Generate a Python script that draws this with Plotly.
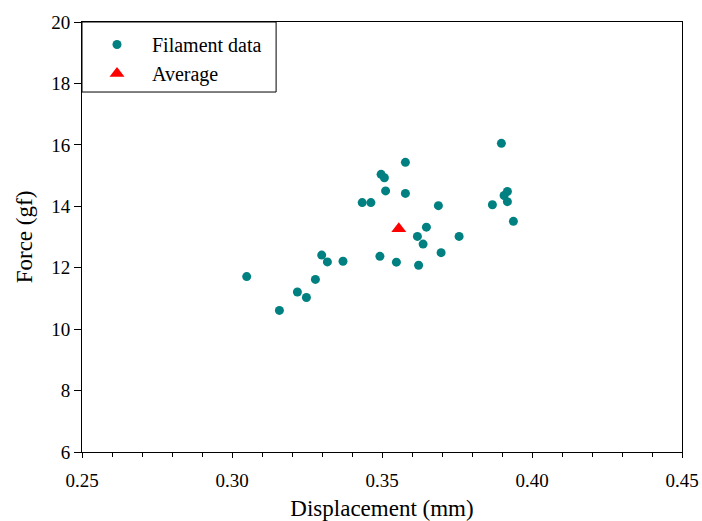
import plotly.graph_objects as go

disp = [0.3049, 0.3158, 0.3218, 0.3248, 0.3278, 0.3299, 0.3318, 0.3370,
        0.3434, 0.3463, 0.3497, 0.3508, 0.3512, 0.3578, 0.3578, 0.3493,
        0.3548, 0.3622, 0.3618, 0.3637, 0.3648, 0.3697, 0.3688, 0.3757,
        0.3868, 0.3898, 0.3918, 0.3907, 0.3918, 0.3938]
force = [11.71, 10.61, 11.21, 11.03, 11.62, 12.41, 12.19, 12.21,
         14.12, 14.12, 15.04, 14.93, 14.50, 15.43, 14.42, 12.37,
         12.18, 12.08, 13.02, 12.77, 13.32, 12.49, 14.02, 13.02,
         14.05, 16.05, 14.48, 14.35, 14.15, 13.51]
avg_disp = [0.3556]
avg_force = [13.27]

x_ticks = [0.25, 0.30, 0.35, 0.40, 0.45]
x_ticklabels = ["0.25", "0.30", "0.35", "0.40", "0.45"]
y_ticks = [6, 8, 10, 12, 14, 16, 18, 20]

FONT = "Liberation Serif, Times New Roman, serif"

fig = go.Figure()
fig.add_trace(go.Scatter(x=disp, y=force, mode="markers", name="Filament data",
                         marker=dict(color="#008080", size=9, symbol="circle")))
fig.add_trace(go.Scatter(x=avg_disp, y=avg_force, mode="markers", name="Average",
                         marker=dict(color="#ff0000", size=13, symbol="triangle-up")))

fig.update_layout(
    width=702, height=521,
    margin=dict(l=82, r=20, t=22, b=69, autoexpand=False),
    paper_bgcolor="white", plot_bgcolor="white",
    font=dict(family=FONT, size=19, color="black"),
    showlegend=True,
    legend=dict(x=0, y=0.993, xanchor="left", yanchor="top", xref="paper", yref="paper",
                bgcolor="rgba(0,0,0,0)", borderwidth=0,
                font=dict(family=FONT, size=20, color="black"),
                itemwidth=60, tracegroupgap=0),
    shapes=[dict(type="rect", xref="x", yref="y", x0=0.25, x1=0.3147, y0=17.72, y1=20,
                 line=dict(color="black", width=1), fillcolor="rgba(0,0,0,0)")],
)
fig.update_xaxes(range=[0.25, 0.45], tickvals=x_ticks, ticktext=x_ticklabels,
                 automargin=False,
                 showgrid=False, zeroline=False, showline=True, linecolor="black",
                 linewidth=1, mirror=True, ticks="outside", ticklen=5, tickcolor="black",
                 ticklabelstandoff=6,
                 minor=dict(dtick=0.01, ticks="outside", ticklen=4, tickcolor="black", showgrid=False),
                 title=dict(text="Displacement (mm)", font=dict(family=FONT, size=23), standoff=13),
                 tickfont=dict(family=FONT, size=19))
fig.update_yaxes(range=[6, 20], tickvals=y_ticks, automargin=False,
                 showgrid=False, zeroline=False, showline=True, linecolor="black",
                 linewidth=1, mirror=True, ticks="outside", ticklen=7, tickcolor="black",
                 title=dict(text="Force (gf)", font=dict(family=FONT, size=23), standoff=12),
                 tickfont=dict(family=FONT, size=19))

fig.write_html("out.html", config={"displayModeBar": False},
               post_script="document.body.style.margin='0';")
